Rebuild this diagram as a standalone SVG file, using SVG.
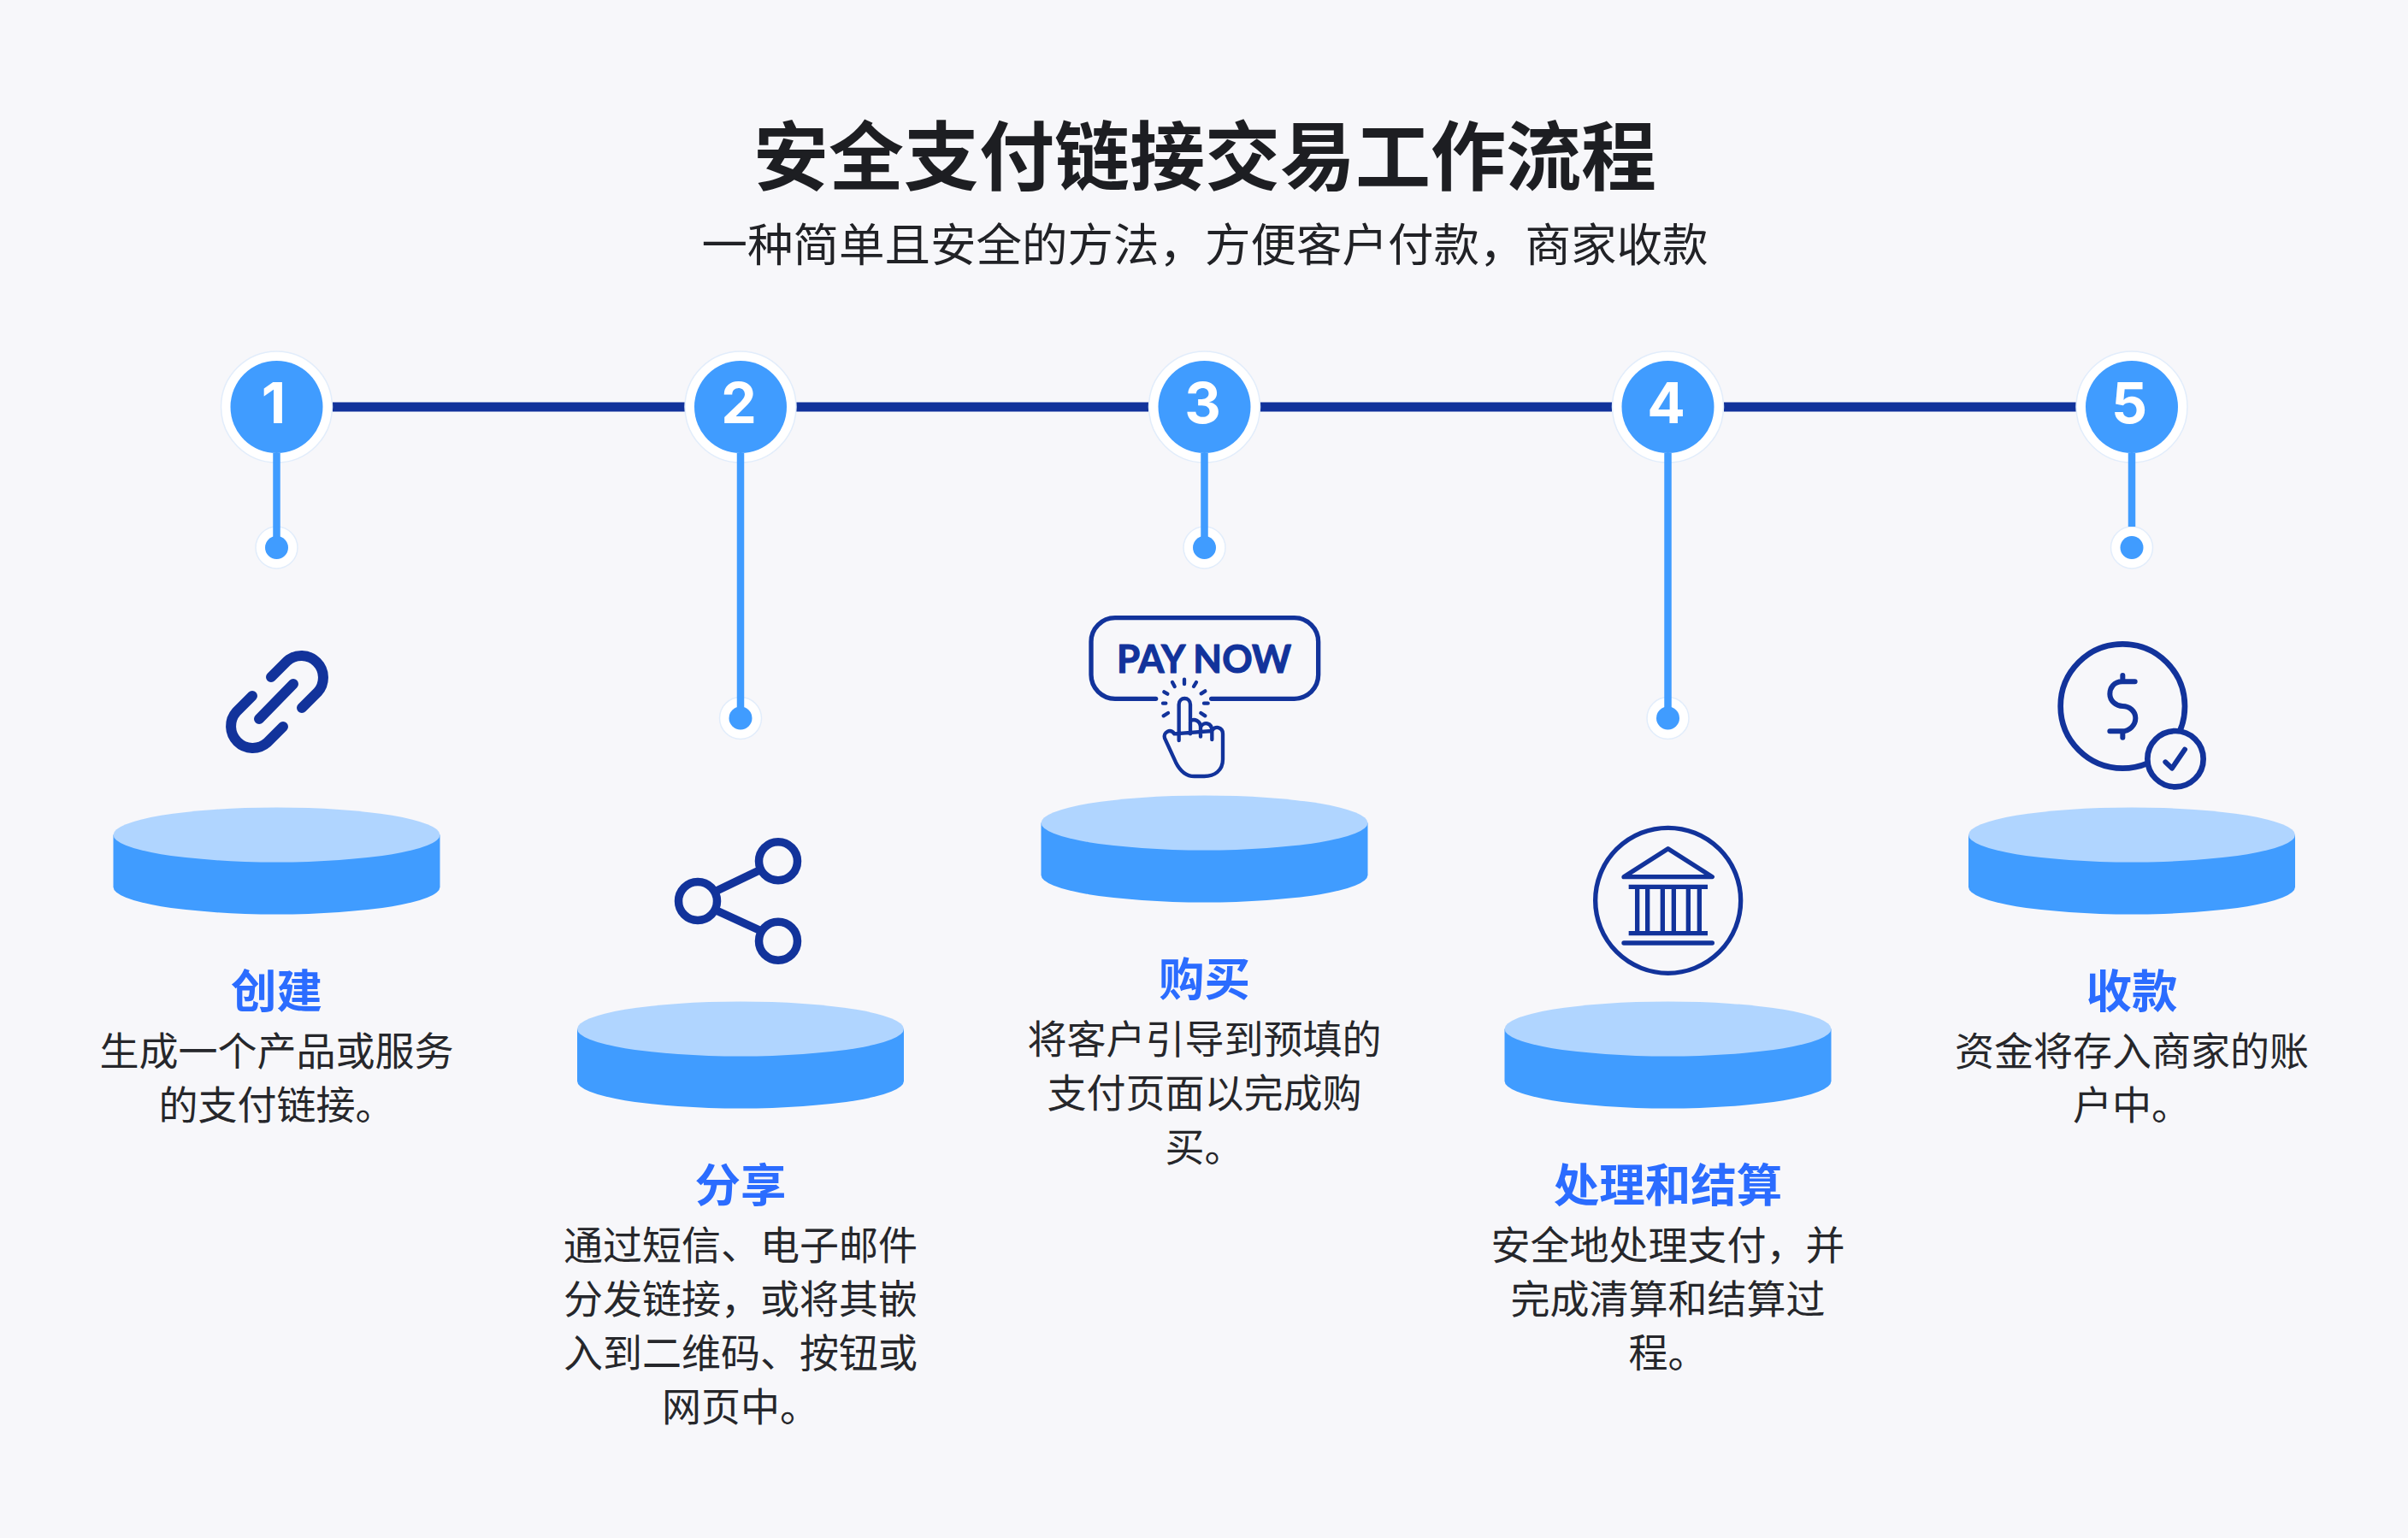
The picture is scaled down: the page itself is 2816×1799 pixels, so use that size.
<svg xmlns="http://www.w3.org/2000/svg" width="2816" height="1799" viewBox="0 0 2816 1799">
<style>
text{font-family:"Noto Sans CJK SC","Noto Sans",sans-serif;text-anchor:middle}
.title{font-size:88px;font-weight:700;fill:#1d1e22}
.sub{font-size:53.500px;font-weight:400;fill:#212226}
.label{font-size:53.500px;font-weight:700;fill:#2b6cff}
.body{font-size:46px;font-weight:400;fill:#26272b}
.num{font-family:Inter,"Liberation Sans",sans-serif;font-size:66px;font-weight:700;fill:#fff}
.ring{fill:#fff;stroke:#e2edfb;stroke-width:1.5}
.blue{fill:#409cff}
.top{fill:#b0d5ff}
.stem{stroke:#409cff;stroke-width:8.5}
.rail{stroke:#12339b;stroke-width:11}
.halo{stroke:#fff;stroke-width:13}
.ico{fill:none;stroke:#12339b;stroke-linecap:round;stroke-linejoin:round}
</style>
<defs>
<g id="disc">
<path class="blue" d="M-191 0V61A191 32 0 0 0 191 61V0Z"/>
<ellipse class="top" cx="0" cy="0" rx="191" ry="32"/>
</g>
</defs>
<rect width="2816" height="1799" fill="#f7f7fa"/>
<g id="heading">
<text class="title" x="1409" y="215">安全支付链接交易工作流程</text>
<text class="sub" x="1409" y="306">一种简单且安全的方法，方便客户付款，商家收款</text>
</g>
<g id="connectors">
<path class="halo" d="M389 476H801M931 476H1343M1473 476H1885M2016 476H2428"/>
<path class="rail" d="M389 476H801M931 476H1343M1473 476H1885M2016 476H2428"/>
</g>
<g id="step1">
<circle class="ring" cx="323.500" cy="476" r="65"/><circle class="ring" cx="323.500" cy="640.500" r="24.500"/>
<path class="stem" d="M323.500 530V640"/>
<circle class="blue" cx="323.500" cy="476" r="54"/><circle class="blue" cx="323.500" cy="640.500" r="13.500"/>
<text class="num" x="320" y="495">1</text>
<g transform="translate(240 740)" class="ico" stroke-width="12">
<path d="M77 52L95.500 33.500A25.500 25.500 0 0 1 131.500 69.500L113 88"/>
<path d="M55 74L36.500 92.500A25.500 25.500 0 0 0 72.500 128.500L91 110"/>
<path d="M63 101L103 60"/>
</g>
<use href="#disc" x="323.500" y="976.500"/>
<text class="label" x="323.500" y="1179">创建</text>
<text class="body" x="323.500" y="1246">生成一个产品或服务</text>
<text class="body" x="323.500" y="1309">的支付链接。</text>
</g>
<g id="step2">
<circle class="ring" cx="866" cy="476" r="65"/><circle class="ring" cx="866" cy="840" r="24.500"/>
<path class="stem" d="M866 530V840"/>
<circle class="blue" cx="866" cy="476" r="54"/><circle class="blue" cx="866" cy="840" r="13.500"/>
<text class="num" x="864" y="495">2</text>
<g transform="translate(760 960)" class="ico" stroke-width="9.500">
<circle cx="150" cy="47.300" r="22.500"/><circle cx="56" cy="94" r="22.500"/><circle cx="150" cy="140.700" r="22.500"/>
<path d="M78 82L128 58M80 106L128 128"/>
</g>
<use href="#disc" x="866" y="1203.500"/>
<text class="label" x="866" y="1406">分享</text>
<text class="body" x="866" y="1473">通过短信、电子邮件</text>
<text class="body" x="866" y="1536">分发链接，或将其嵌</text>
<text class="body" x="866" y="1599">入到二维码、按钮或</text>
<text class="body" x="866" y="1662">网页中。</text>
</g>
<g id="step3">
<circle class="ring" cx="1408.500" cy="476" r="65"/><circle class="ring" cx="1408.500" cy="640.500" r="24.500"/>
<path class="stem" d="M1408.500 530V640"/>
<circle class="blue" cx="1408.500" cy="476" r="54"/><circle class="blue" cx="1408.500" cy="640.500" r="13.500"/>
<text class="num" x="1406.500" y="495">3</text>
<g transform="translate(1220 680) scale(.33333)" class="ico">
<path stroke-width="16" d="M395 412H252A84 84 0 0 1 168 328V212A84 84 0 0 1 252 128H881A84 84 0 0 1 965 212V328A84 84 0 0 1 881 412H590"/>
<path stroke-width="13" d="M420 428H430M424 388L436 395M453 354L461 369M495 344V360M537 354L528 369M568 385L554 394M578 428H564M568 472L553 462M422 472L438 462"/>
<path stroke-width="13" d="M476 558V432C476 404 516 404 516 432V535M516 490C530 480 552 490 552 512V545M552 512C562 490 592 495 592 525V555M592 525C600 505 630 510 630 535V625C630 665 600 684 565 684H530C500 684 480 665 465 635L426 550C420 530 445 515 460 535Z"/>
</g>
<text x="1408" y="787" font-size="46" font-weight="700" fill="#12339b" stroke="#12339b" stroke-width="1.200" stroke-linejoin="round" style="font-family:Lato,Inter,sans-serif" textLength="204" lengthAdjust="spacingAndGlyphs">PAY NOW</text>
<use href="#disc" x="1408.500" y="962.500"/>
<text class="label" x="1408.500" y="1165">购买</text>
<text class="body" x="1408.500" y="1232">将客户引导到预填的</text>
<text class="body" x="1408.500" y="1295">支付页面以完成购</text>
<text class="body" x="1408.500" y="1358">买。</text>
</g>
<g id="step4">
<circle class="ring" cx="1950.500" cy="476" r="65"/><circle class="ring" cx="1950.500" cy="840" r="24.500"/>
<path class="stem" d="M1950.500 530V840"/>
<circle class="blue" cx="1950.500" cy="476" r="54"/><circle class="blue" cx="1950.500" cy="840" r="13.500"/>
<text class="num" x="1948.500" y="495">4</text>
<g transform="translate(1820 940) scale(.33333)" class="ico" stroke-width="16">
<circle cx="392" cy="340" r="255"/>
<path d="M237 257L392 158L547 257Z"/>
<path stroke-linecap="butt" d="M254 292H531M254 455H531M284 292V455M320 292V455M373 292V455M412 292V455M463 292V455M502 292V455"/>
<path d="M237 489H547"/>
</g>
<use href="#disc" x="1950.500" y="1203.500"/>
<text class="label" x="1950.500" y="1406">处理和结算</text>
<text class="body" x="1950.500" y="1473">安全地处理支付，并</text>
<text class="body" x="1950.500" y="1536">完成清算和结算过</text>
<text class="body" x="1950.500" y="1599">程。</text>
</g>
<g id="step5">
<circle class="ring" cx="2493" cy="476" r="65"/><circle class="ring" cx="2493" cy="640.500" r="24.500"/>
<path class="stem" d="M2493 530V616"/>
<circle class="blue" cx="2493" cy="476" r="54"/><circle class="blue" cx="2493" cy="640.500" r="13.500"/>
<text class="num" x="2490" y="495">5</text>
<g transform="translate(2370 730) scale(.33333)" class="ico" stroke-width="20">
<circle cx="337" cy="288" r="218"/>
<circle cx="522" cy="473" r="98" fill="#f7f7fa"/>
<path stroke-width="18" d="M380 202H335C305 202 292 225 292 245C292 270 315 288 337 288C360 288 382 305 382 330C382 355 360 376 335 376H292M337 180V202M337 376V398"/>
<path stroke-width="18" d="M487 484L510 506L555 440"/>
</g>
<use href="#disc" x="2493" y="976.500"/>
<text class="label" x="2493" y="1179">收款</text>
<text class="body" x="2493" y="1246">资金将存入商家的账</text>
<text class="body" x="2493" y="1309">户中。</text>
</g>
</svg>
